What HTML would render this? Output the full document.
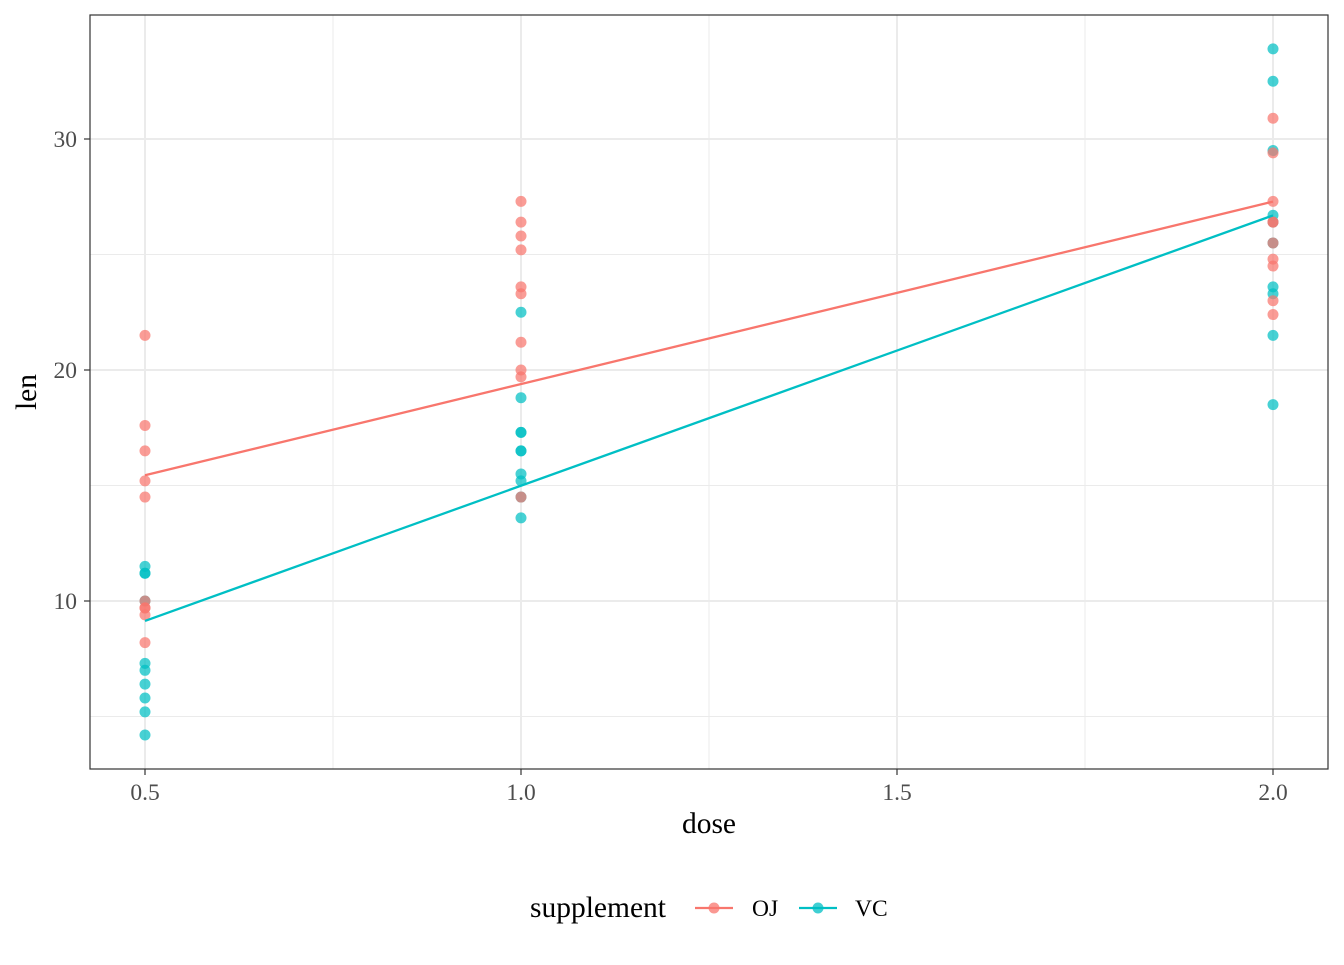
<!DOCTYPE html>
<html><head><meta charset="utf-8"><style>
html,body{margin:0;padding:0;background:#fff}
svg text{font-family:"Liberation Serif",serif}
</style></head><body>
<svg id="s" width="1344" height="960" xmlns="http://www.w3.org/2000/svg">
<rect width="1344" height="960" fill="#fff"/>
<g id="grid"></g>
<g id="pts"></g>
<line x1="145" y1="475.3" x2="1273" y2="201.6" stroke="#F8766D" stroke-width="2.3"/>
<line x1="145" y1="620.9" x2="1273" y2="215.4" stroke="#00BFC4" stroke-width="2.3"/>
<rect x="90" y="15" width="1238" height="754" fill="none" stroke="#333" stroke-width="1.2"/>
<g font-size="23.5" fill="#4d4d4d" text-anchor="end">
<text x="77" y="147">30</text><text x="77" y="378">20</text><text x="77" y="609">10</text>
</g>
<g stroke="#333" stroke-width="1.2">
<line x1="84" y1="139" x2="90" y2="139"/><line x1="84" y1="370" x2="90" y2="370"/><line x1="84" y1="601" x2="90" y2="601"/>
<line x1="145" y1="769" x2="145" y2="775"/><line x1="521" y1="769" x2="521" y2="775"/><line x1="897" y1="769" x2="897" y2="775"/><line x1="1273" y1="769" x2="1273" y2="775"/>
</g>
<g font-size="23.5" fill="#4d4d4d" text-anchor="middle">
<text x="145" y="800">0.5</text><text x="521" y="800">1.0</text><text x="897" y="800">1.5</text><text x="1273" y="800">2.0</text>
</g>
<text x="709" y="833" font-size="29.5" text-anchor="middle">dose</text>
<text transform="translate(36,392) rotate(-90)" font-size="29.5" text-anchor="middle">len</text>
<text x="530" y="917" font-size="29.5">supplement</text>
<line x1="695" y1="908" x2="733" y2="908" stroke="#F8766D" stroke-width="2.3"/>
<circle cx="714" cy="908" r="5.5" fill="#F8766D" fill-opacity="0.75"/>
<text x="752" y="916" font-size="23.5">OJ</text>
<line x1="799" y1="908" x2="837" y2="908" stroke="#00BFC4" stroke-width="2.3"/>
<circle cx="818" cy="908" r="5.5" fill="#00BFC4" fill-opacity="0.75"/>
<text x="855" y="916" font-size="23.5">VC</text>
</svg>
<script>
var ns="http://www.w3.org/2000/svg";
function el(p,t,a){var e=document.createElementNS(ns,t);for(var k in a)e.setAttribute(k,a[k]);p.appendChild(e);}
var g=document.getElementById("grid");
function X(d){return 145+(d-0.5)*752;}function Y(v){return 370-(v-20)*23.1;}
[5,15,25].forEach(function(v){el(g,"line",{x1:90,x2:1328,y1:Y(v),y2:Y(v),stroke:"#ebebeb","stroke-width":1});});
[0.75,1.25,1.75].forEach(function(d){el(g,"line",{y1:15,y2:769,x1:X(d),x2:X(d),stroke:"#ebebeb","stroke-width":1});});
[10,20,30].forEach(function(v){el(g,"line",{x1:90,x2:1328,y1:Y(v),y2:Y(v),stroke:"#ebebeb","stroke-width":2});});
[0.5,1,1.5,2].forEach(function(d){el(g,"line",{y1:15,y2:769,x1:X(d),x2:X(d),stroke:"#ebebeb","stroke-width":2});});
var p=document.getElementById("pts");
var VC={0.5:[4.2,11.5,7.3,5.8,6.4,10,11.2,11.2,5.2,7],1:[16.5,16.5,15.2,17.3,22.5,17.3,13.6,14.5,18.8,15.5],2:[23.6,18.5,33.9,25.5,26.4,32.5,26.7,21.5,23.3,29.5]};
var OJ={0.5:[15.2,21.5,17.6,9.7,14.5,10,8.2,9.4,16.5,9.7],1:[19.7,23.3,23.6,26.4,20,25.2,25.8,21.2,14.5,27.3],2:[25.5,26.4,22.4,24.5,24.8,30.9,26.4,27.3,29.4,23]};
[[VC,"#00BFC4"],[OJ,"#F8766D"]].forEach(function(s){for(var d in s[0])s[0][d].forEach(function(v){el(p,"circle",{cx:X(+d),cy:Y(v),r:5.5,fill:s[1],"fill-opacity":0.72});});});
</script>
</body></html>
